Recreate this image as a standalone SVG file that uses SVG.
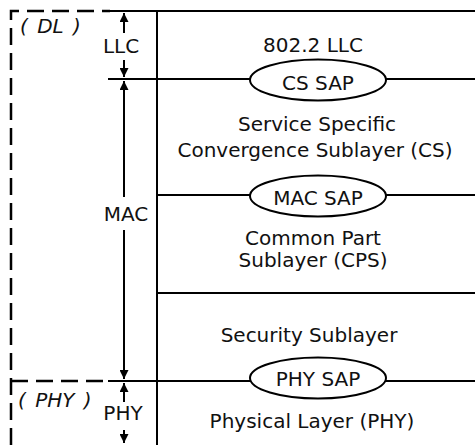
<svg xmlns="http://www.w3.org/2000/svg" width="475" height="445" viewBox="0 0 475 445">
  <style>
    .ln { stroke: #000; stroke-width: 2; fill: none; }
    .dash { stroke: #000; stroke-width: 2.5; fill: none; stroke-dasharray: 17 8; }
    .sap { stroke: #000; stroke-width: 2; fill: #fff; }
    .arr { stroke: #000; stroke-width: 2; fill: none; marker-end: url(#head); }
    text { font-family: "DejaVu Sans", Verdana, sans-serif; font-size: 20px; fill: #111; text-anchor: middle; }
    .it { font-style: italic; text-anchor: start; word-spacing: 3px; }
  </style>
  <defs>
    <marker id="head" markerUnits="userSpaceOnUse" markerWidth="10" markerHeight="9" refX="9" refY="4.5" orient="auto">
      <path d="M0,0 L9,4.5 L0,9 z" fill="#000"/>
    </marker>
  </defs>
  <rect width="475" height="445" fill="#fff"/>

  <!-- layer frame -->
  <g id="frame">
    <path class="dash" d="M11,445 V11 H110"/>
    <path class="dash" d="M11,381 H106"/>
    <line class="ln" x1="110" y1="11" x2="475" y2="11"/>
    <line class="ln" x1="157" y1="11" x2="157" y2="445"/>
    <line class="ln" x1="108" y1="79" x2="475" y2="79"/>
    <line class="ln" x1="157" y1="195" x2="475" y2="195"/>
    <line class="ln" x1="157" y1="293" x2="475" y2="293"/>
    <line class="ln" x1="108" y1="381" x2="475" y2="381"/>
  </g>

  <!-- extent arrows -->
  <g id="connectors">
    <line class="arr" x1="124" y1="33" x2="124" y2="13"/>
    <line class="arr" x1="124" y1="60" x2="124" y2="77"/>
    <line class="arr" x1="124" y1="197" x2="124" y2="81"/>
    <line class="arr" x1="124" y1="230" x2="124" y2="379"/>
    <line class="arr" x1="124" y1="402" x2="124" y2="383"/>
    <line class="arr" x1="124" y1="430" x2="124" y2="443"/>
  </g>

  <g id="dl-label"><text class="it" x="20" y="33">( DL )</text></g>
  <g id="phy-label"><text class="it" x="18" y="407">( PHY )</text></g>
  <g id="llc-span"><text x="121" y="53">LLC</text></g>
  <g id="mac-span"><text x="126" y="221">MAC</text></g>
  <g id="phy-span"><text x="123" y="420">PHY</text></g>

  <g id="llc"><text x="313" y="52">802.2 LLC</text></g>
  <g id="cs-sap">
    <ellipse class="sap" cx="318" cy="80" rx="68" ry="20.5"/>
    <text x="318" y="90">CS SAP</text>
  </g>
  <g id="cs">
    <text x="317" y="131">Service Specific</text>
    <text x="315" y="157">Convergence Sublayer (CS)</text>
  </g>
  <g id="mac-sap">
    <ellipse class="sap" cx="318" cy="196" rx="68" ry="20.5"/>
    <text x="318" y="205">MAC SAP</text>
  </g>
  <g id="cps">
    <text x="313" y="245">Common Part</text>
    <text x="313" y="267">Sublayer (CPS)</text>
  </g>
  <g id="security"><text x="309" y="342">Security Sublayer</text></g>
  <g id="phy-sap">
    <ellipse class="sap" cx="318" cy="378" rx="68" ry="20.5"/>
    <text x="318" y="386">PHY SAP</text>
  </g>
  <g id="phy"><text x="312" y="428">Physical Layer (PHY)</text></g>
</svg>
